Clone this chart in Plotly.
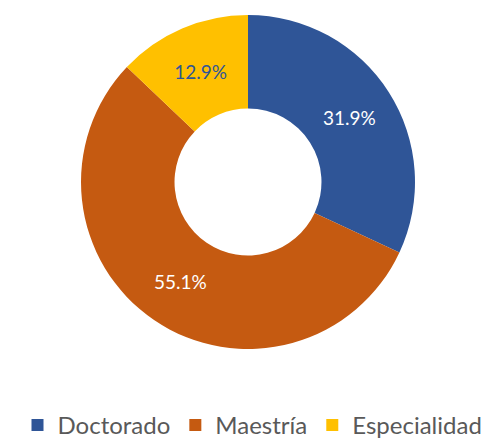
import plotly.graph_objects as go

labels = ["Doctorado", "Maestría", "Especialidad"]
values = [31.9, 55.1, 12.9]
text_labels = ["31.9%", "55.1%", "12.9%"]
colors = ["#2F5597", "#C55A11", "#FFC000"]
text_colors = ["#FFFFFF", "#FFFFFF", "#2F5597"]

W, H = 489, 440
cx, cy, R = 248 - 8, 180 - 6, 167

fig = go.Figure(go.Pie(
    labels=labels,
    values=values,
    text=text_labels,
    texttemplate="%{text}",
    textposition="inside",
    insidetextorientation="horizontal",
    textfont=dict(family="Lato, Open Sans, sans-serif", size=19, color=text_colors),
    marker=dict(colors=colors, line=dict(width=0)),
    hole=0.44,
    sort=False,
    direction="clockwise",
    rotation=0,
    domain=dict(x=[(cx - R) / W, (cx + R) / W], y=[1 - (cy + R) / H, 1 - (cy - R) / H]),
))

fig.update_layout(
    width=W, height=H,
    margin=dict(l=0, r=0, t=0, b=0),
    paper_bgcolor="white",
    plot_bgcolor="white",
    showlegend=True,
    legend=dict(
        orientation="h",
        x=0.5, xanchor="center",
        y=0.0, yanchor="bottom",
        font=dict(family="Lato, Open Sans, sans-serif", size=24, color="#595959"),
        itemwidth=30,
        traceorder="normal",
    ),
)

fig.write_html("out.html")
